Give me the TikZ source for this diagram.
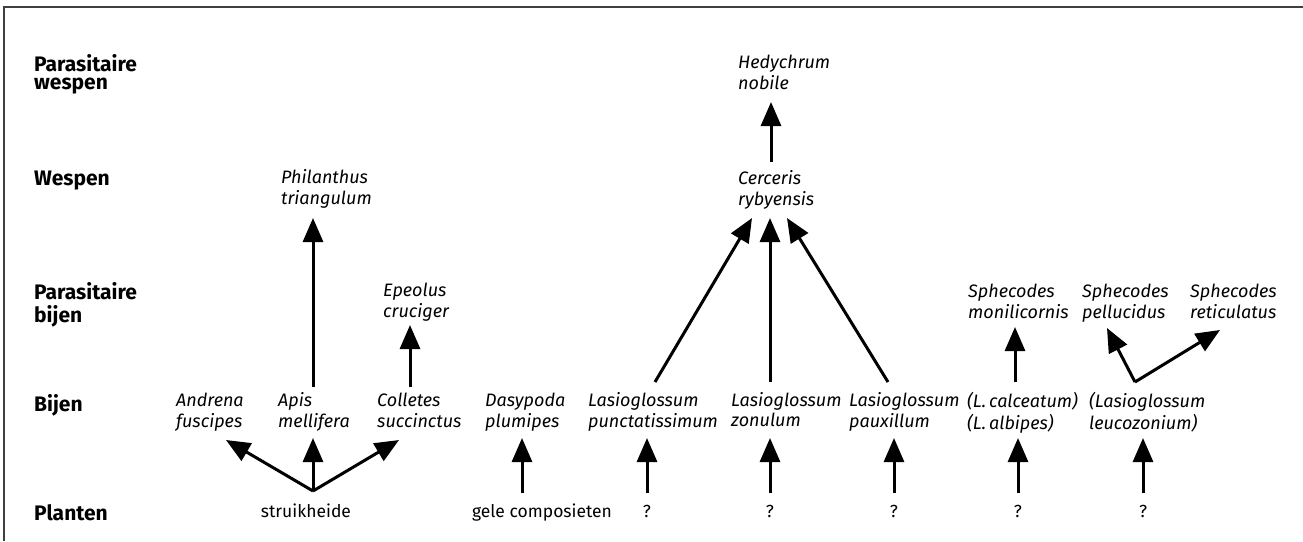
\documentclass[tikz,border=0pt]{standalone}
\usepackage{fontspec}
\setmainfont{Fira Sans}
\usetikzlibrary{arrows.meta}
\begin{document}
\begin{tikzpicture}[x=1pt,y=-1pt,
  lab/.style={anchor=north west,inner sep=0pt,align=left,font=\fontsize{21}{18.5}\selectfont\bfseries},
  sp/.style={anchor=north west,inner sep=0pt,align=left,font=\fontsize{18}{20}\selectfont\itshape},
  pl/.style={anchor=base,inner sep=0pt,font=\fontsize{17.5}{20}\selectfont},
  arr/.style={line width=3pt,-{Triangle[length=24pt,width=20pt]}}]
\useasboundingbox (0,0) rectangle (1303,541);
\draw[line width=2pt,color=black!75] (4,541) -- (4,6.5) -- (1303,6.5);

% row labels
\node[lab] (rPW) at (34,54.05) {\strut Parasitaire\\wespen};
\node[lab] (rW)  at (34,171.05) {\strut Wespen};
\node[lab] (rPB) at (34,282.05) {\strut Parasitaire\\bijen};
\node[lab] (rB)  at (34,394.05) {\strut Bijen};
\node[lab] (rP)  at (34,504.05) {\strut Planten};

% species
\node[sp] (hedy) at (738,54) {\strut Hedychrum\\nobile};
\node[sp] (phil) at (281,169) {\strut Philanthus\\triangulum};
\node[sp] (cerc) at (738,170) {\strut Cerceris\\rybyensis};
\node[sp] (epeo) at (383,282) {\strut Epeolus\\cruciger};
\node[sp] (smon) at (968,283) {\strut Sphecodes\\monilicornis};
\node[sp] (spel) at (1082,283) {\strut Sphecodes\\pellucidus};
\node[sp] (sret) at (1190,283) {\strut Sphecodes\\reticulatus};

\node[sp] (andr) at (176,392) {\strut Andrena\\fuscipes};
\node[sp] (apis) at (278,392) {\strut Apis\\mellifera};
\node[sp] (coll) at (377,392) {\strut Colletes\\succinctus};
\node[sp] (dasy) at (485,392) {\strut Dasypoda\\plumipes};
\node[sp] (lpun) at (588,392) {\strut Lasioglossum\\punctatissimum};
\node[sp] (lzon) at (731,392) {\strut Lasioglossum\\zonulum};
\node[sp] (lpau) at (849,392) {\strut Lasioglossum\\pauxillum};
\node[sp] (lcal) at (967,392) {\strut (L.\,calceatum)\\(L.\,albipes)};
\node[sp] (lleu) at (1089,392) {\strut (Lasioglossum\\leucozonium)};

% plants
\node[pl] (struik) at (306,517) {struikheide};
\node[pl] (gele)   at (542,517) {gele composieten};
\node[pl] (q1) at (647,517) {?};
\node[pl] (q2) at (770,517) {?};
\node[pl] (q3) at (894,517) {?};
\node[pl] (q4) at (1018,517) {?};
\node[pl] (q5) at (1143,517) {?};

% connector end points
\coordinate (cS) at (313,491);
\coordinate (tAndr) at (226,440);
\coordinate (tApis) at (313,438);
\coordinate (tColl) at (399,440);
\coordinate (cG) at (522,493);  \coordinate (tDasy) at (522,438);
\coordinate (c1) at (647,493);  \coordinate (tLpun) at (647,438);
\coordinate (c2) at (770,493);  \coordinate (tLzon) at (770,438);
\coordinate (c3) at (894,493);  \coordinate (tLpau) at (894,438);
\coordinate (c4) at (1018,493); \coordinate (tLcal) at (1018,438);
\coordinate (c5) at (1143,493); \coordinate (tLleu) at (1143,438);

\coordinate (bApis) at (313,387); \coordinate (tPhil) at (313,218);
\coordinate (bColl) at (410,387); \coordinate (tEpeo) at (410,325);
\coordinate (bLpun) at (655,382); \coordinate (tC1) at (752,218);
\coordinate (bLzon) at (770,382); \coordinate (tC2) at (770,218);
\coordinate (bLpau) at (888,382); \coordinate (tC3) at (787,218);
\coordinate (bCerc) at (771,162); \coordinate (tHedy) at (771,102);
\coordinate (bLcal) at (1015,382); \coordinate (tSmon) at (1015,327);
\coordinate (bLleu) at (1135,382); \coordinate (tSpel) at (1107,328);
\coordinate (tSret) at (1220,330);

\draw[arr] (cS) -- (tAndr);
\draw[arr] (cS) -- (tApis);
\draw[arr] (cS) -- (tColl);
\draw[arr] (cG) -- (tDasy);
\draw[arr] (c1) -- (tLpun);
\draw[arr] (c2) -- (tLzon);
\draw[arr] (c3) -- (tLpau);
\draw[arr] (c4) -- (tLcal);
\draw[arr] (c5) -- (tLleu);

\draw[arr] (bApis) -- (tPhil);
\draw[arr] (bColl) -- (tEpeo);
\draw[arr] (bLpun) -- (tC1);
\draw[arr] (bLzon) -- (tC2);
\draw[arr] (bLpau) -- (tC3);
\draw[arr] (bCerc) -- (tHedy);
\draw[arr] (bLcal) -- (tSmon);
\draw[arr] (bLleu) -- (tSpel);
\draw[arr] (bLleu) -- (tSret);
\end{tikzpicture}
\end{document}
